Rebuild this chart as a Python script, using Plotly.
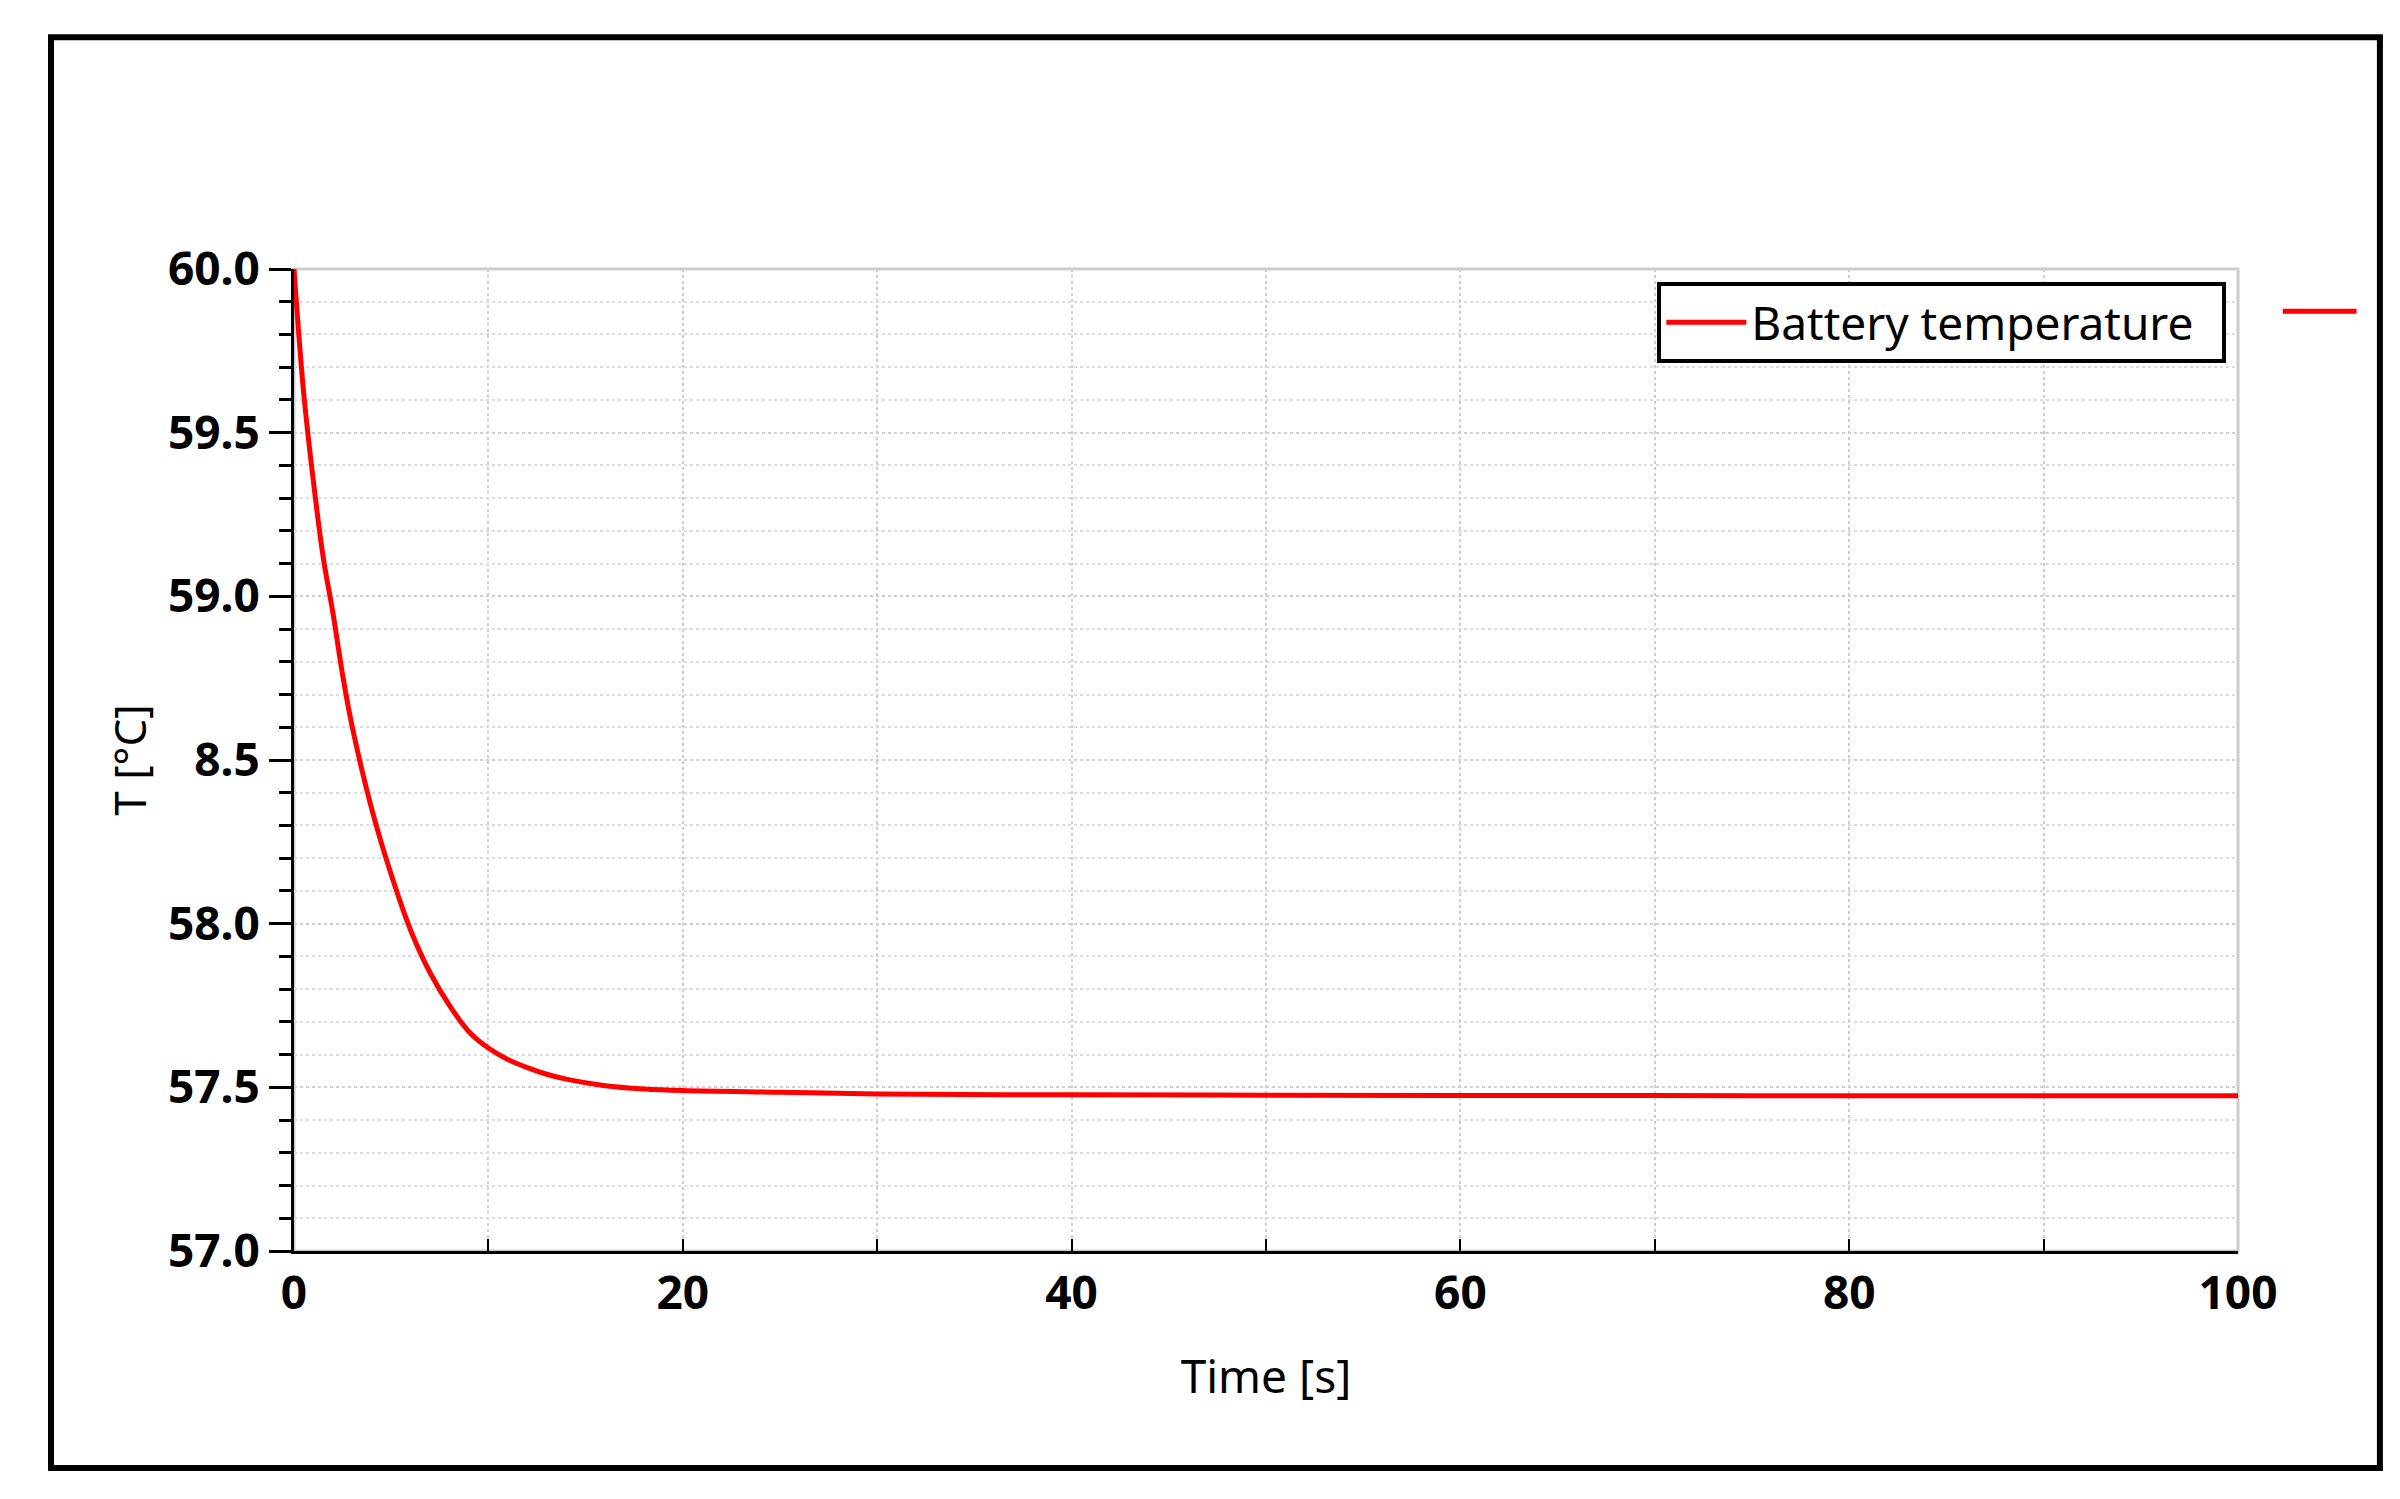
import plotly.graph_objects as go

# Données
time_s = [0, 0.5, 1, 1.5, 2, 2.5, 3, 4, 5, 6, 7, 8, 9, 10, 11, 12, 13, 14, 16, 18, 20, 25, 30, 40, 50, 60, 70, 80, 90, 100]
temp_c = [60.0, 59.62, 59.35, 59.12, 58.95, 58.76, 58.6, 58.35, 58.15, 57.98, 57.85, 57.75, 57.67, 57.62, 57.585, 57.56, 57.54, 57.525, 57.505, 57.495, 57.49, 57.485, 57.48, 57.477, 57.476, 57.475, 57.475, 57.474, 57.474, 57.474]
y_ticks = [57.0, 57.5, 58.0, 58.5, 59.0, 59.5, 60.0]
y_labels = ["57.0", "57.5", "58.0", "8.5", "59.0", "59.5", "60.0"]

FONT = "Noto Sans"

fig = go.Figure()
fig.add_trace(go.Scatter(x=time_s, y=temp_c, mode="lines", name="Battery temperature  ",
                         line=dict(color="#ff0000", width=5, shape="spline")))

# cadre extérieur et bordure grise du graphe
fig.add_shape(type="rect", xref="paper", yref="paper", x0=-0.125, x1=1.073, y0=-0.221, y1=1.236,
              line=dict(color="black", width=6))
fig.add_shape(type="rect", xref="paper", yref="paper", x0=0, x1=1, y0=0, y1=1,
              line=dict(color="#cccccc", width=3), layer="below")
# petit trait rouge hors du graphe
fig.add_shape(type="line", xref="paper", yref="paper", x0=1.023, x1=1.061, y0=0.957, y1=0.957,
              line=dict(color="#ff0000", width=5))

fig.update_xaxes(range=[0, 100], dtick=20, showline=True, linecolor="black", linewidth=3,
                 ticks="inside", ticklen=12, tickwidth=2, tickcolor="black",
                 showgrid=True, gridcolor="#cfcfcf", griddash="dot", gridwidth=2,
                 minor=dict(dtick=10, ticks="inside", ticklen=12, tickcolor="black", tickwidth=2,
                            showgrid=True, gridcolor="#cfcfcf", griddash="dot", gridwidth=2),
                 tickfont=dict(family=FONT, size=46, color="black", weight="bold"),
                 title=dict(text="Time [s]", font=dict(family=FONT, size=46, color="black"), standoff=40),
                 zeroline=False)
fig.update_yaxes(range=[57.0, 60.0], tickvals=y_ticks, ticktext=y_labels, showline=True,
                 linecolor="black", linewidth=3, ticks="outside", ticklen=22, tickwidth=3,
                 tickcolor="black", showgrid=True, gridcolor="#cfcfcf", griddash="dot", gridwidth=2,
                 minor=dict(dtick=0.1, ticks="outside", ticklen=12, tickcolor="black", tickwidth=3,
                            showgrid=True, gridcolor="#dddddd", griddash="dot", gridwidth=2),
                 tickfont=dict(family=FONT, size=46, color="black", weight="bold"),
                 title=dict(text="T [°C]", font=dict(family=FONT, size=44, color="black"), standoff=8),
                 zeroline=False)

fig.update_layout(
    width=2400, height=1499,
    margin=dict(l=286, r=170, t=261, b=256),
    plot_bgcolor="white", paper_bgcolor="white",
    showlegend=True,
    legend=dict(x=0.994, y=0.987, xanchor="right", yanchor="top", bgcolor="white",
                bordercolor="black", borderwidth=4, itemwidth=80,
                font=dict(family=FONT, size=46, color="black")),
)

fig.write_html("out.html")
